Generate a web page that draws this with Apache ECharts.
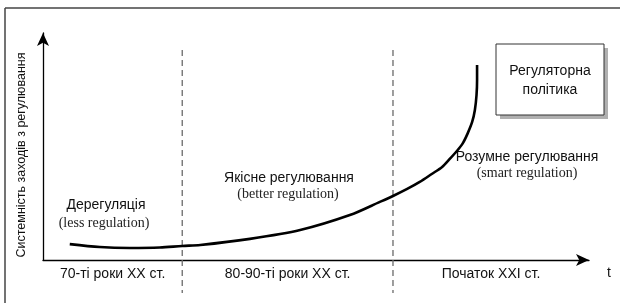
<!DOCTYPE html>
<html>
<head>
<meta charset="utf-8">
<script src="https://cdn.jsdelivr.net/npm/echarts@6/dist/echarts.min.js"></script>
<style>html,body{margin:0;padding:0;background:#fff}#c{width:620px;height:303px}</style>
</head>
<body>
<div id="c"></div>
<script>
// Conceptual time axis (0..100) and "systemness of regulation measures" (0..100)
var curveX = [4.9, 10.4, 15.9, 21.4, 25.5, 28.8, 37.9, 47.1, 56.2, 61.7, 64.1, 66.7, 69.0, 71.2, 73.1, 74.5, 75.8, 76.9, 77.8, 78.6, 79.1, 79.4, 79.5, 79.5];
var curveY = [7.0, 5.7, 5.3, 5.5, 6.2, 6.6, 9.3, 13.2, 19.8, 25.6, 28.2, 31.3, 34.4, 37.9, 41.0, 44.5, 48.0, 51.5, 55.9, 60.8, 66.1, 72.7, 79.3, 85.9];
var eraBounds = [0, 25.5, 64.1, 100];
var eraLabels = ['70-ті роки ХХ ст.', '80-90-ті роки ХХ ст.', 'Початок XXI ст.'];
var eraTitles = ['Дерегуляція', 'Якісне регулювання', 'Розумне регулювання'];
var eraSubtitles = ['(less regulation)', '(better regulation)', '(smart regulation)'];
var yAxisTitle = 'Системність заходів з регулювання';
var xAxisTitle = 't';
var boxLines = ['Регуляторна', 'політика'];

var curveData = curveX.map(function (x, i) { return [x, curveY[i]]; });
var dividerData = eraBounds.slice(1, eraBounds.length - 1).map(function (b) { return [b]; });
var eraData = eraLabels.map(function (l, i) { return [(eraBounds[i] + eraBounds[i + 1]) / 2, l]; });

var chart = echarts.init(document.getElementById('c'), null, {renderer: 'canvas'});
var sans = 'Liberation Sans, Arial, sans-serif';
var serif = 'Liberation Serif, Times New Roman, serif';

function txt(x, y, s, font, fill) {
  return {type: 'text', x: x, y: y, style: {text: s, fill: fill || '#111', font: font, align: 'center', verticalAlign: 'middle'}};
}

var option = {
  backgroundColor: '#fff',
  animation: false,
  grid: {left: 43, right: 31, top: 33, bottom: 43},
  xAxis: {
    type: 'value', min: 0, max: 100,
    axisLine: {show: true, lineStyle: {color: '#000', width: 1.3}, symbol: ['none', 'arrow'], symbolSize: [9, 13]},
    axisTick: {show: false}, axisLabel: {show: false}, splitLine: {show: false}
  },
  yAxis: {
    type: 'value', min: 0, max: 100,
    axisLine: {show: true, lineStyle: {color: '#000', width: 1.3}, symbol: ['none', 'arrow'], symbolSize: [9, 13]},
    axisTick: {show: false}, axisLabel: {show: false}, splitLine: {show: false}
  },
  series: [
    {
      type: 'custom',
      data: dividerData,
      clip: false,
      renderItem: function (params, api) {
        var x = api.value(0);
        var top = api.coord([x, 92.5]);
        var bot = api.coord([x, -14.5]);
        return {type: 'line', shape: {x1: top[0], y1: top[1], x2: bot[0], y2: bot[1]},
          style: {stroke: '#6a6a6a', lineWidth: 1.3, lineDash: [6, 4]}};
      },
      z: 1
    },
    {
      type: 'custom',
      data: eraData,
      clip: false,
      renderItem: function (params, api) {
        var p = api.coord([api.value(0), 0]);
        return {type: 'text', x: p[0], y: p[1] + 14,
          style: {text: eraLabels[params.dataIndex], fill: '#111', font: '14px ' + sans, align: 'center', verticalAlign: 'middle'}};
      }
    },
    {
      type: 'line',
      data: curveData,
      smooth: 0.3,
      showSymbol: false,
      lineStyle: {color: '#000', width: 2.6},
      clip: false,
      z: 3
    }
  ],
  graphic: [
    {type: 'line', shape: {x1: 5, y1: 8, x2: 620, y2: 8}, style: {stroke: '#444', lineWidth: 1.5}},
    {type: 'line', shape: {x1: 5, y1: 8, x2: 5, y2: 303}, style: {stroke: '#444', lineWidth: 1.5}},
    {type: 'text', x: 22, y: 155, rotation: Math.PI / 2,
      style: {text: yAxisTitle, fill: '#111', font: '12.5px ' + sans, align: 'center', verticalAlign: 'middle'}},
    txt(609, 273, xAxisTitle, '14px ' + sans),
    txt(106, 205, eraTitles[0], '14px ' + sans),
    txt(104, 223, eraSubtitles[0], '14px ' + serif, '#222'),
    txt(289, 178, eraTitles[1], '14px ' + sans),
    txt(288, 194, eraSubtitles[1], '14px ' + serif, '#222'),
    txt(527, 157, eraTitles[2], '14px ' + sans),
    txt(527, 173, eraSubtitles[2], '14px ' + serif, '#222'),
    {type: 'rect', shape: {x: 500, y: 48, width: 108, height: 71}, style: {fill: '#b0b0b0'}},
    {type: 'rect', shape: {x: 496, y: 44, width: 108, height: 71}, style: {fill: '#fff', stroke: '#333', lineWidth: 1}},
    txt(550, 71, boxLines[0], '14px ' + sans),
    txt(550, 90, boxLines[1], '14px ' + sans)
  ]
};
chart.setOption(option);
</script>
</body>
</html>
